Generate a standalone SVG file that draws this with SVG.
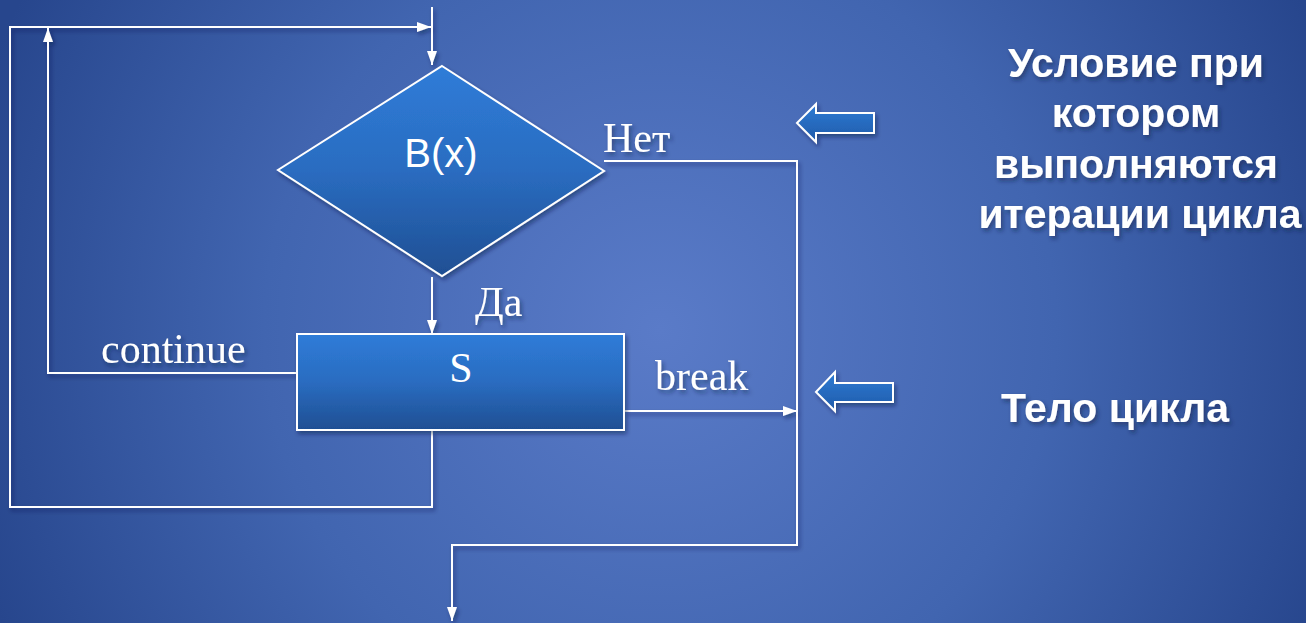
<svg xmlns="http://www.w3.org/2000/svg" width="1306" height="623" viewBox="0 0 1306 623">
<defs>
  <radialGradient id="bg" cx="660" cy="330" r="720" gradientUnits="userSpaceOnUse">
    <stop offset="0" stop-color="#5A7BC8"/>
    <stop offset="0.55" stop-color="#4165B0"/>
    <stop offset="1" stop-color="#27468D"/>
  </radialGradient>
  <linearGradient id="shapeFill" x1="0" y1="0" x2="0" y2="1">
    <stop offset="0" stop-color="#2F7CD8"/>
    <stop offset="0.5" stop-color="#2A6CC0"/>
    <stop offset="1" stop-color="#1F4F93"/>
  </linearGradient>
  <linearGradient id="arrowFill" x1="0" y1="0" x2="0" y2="1">
    <stop offset="0" stop-color="#2F7BD4"/>
    <stop offset="1" stop-color="#1F5BAA"/>
  </linearGradient>
  <filter id="shadow" x="-10%" y="-10%" width="130%" height="140%">
    <feDropShadow dx="2" dy="3" stdDeviation="2" flood-color="#0A1A40" flood-opacity="0.45"/>
  </filter>
  <filter id="tshadow" x="-10%" y="-20%" width="130%" height="150%">
    <feDropShadow dx="2" dy="3" stdDeviation="2" flood-color="#0A1A40" flood-opacity="0.5"/>
  </filter>
  <marker id="ah" markerUnits="userSpaceOnUse" markerWidth="15" markerHeight="11" refX="14" refY="5" orient="auto">
    <path d="M0,0 L14,5 L0,10 z" fill="#FFFFFF"/>
  </marker>
  <style>
    .conn { fill: none; stroke: #FFFFFF; stroke-width: 2; }
    .node { fill: url(#shapeFill); stroke: #FFFFFF; stroke-width: 2; }
    .blk { fill: url(#arrowFill); stroke: #FFFFFF; stroke-width: 2; stroke-linejoin: miter; }
    .serif { font-family: "Liberation Serif", "Times New Roman", serif; font-size: 42px; fill: #FFFFFF; }
    .sans { font-family: "Liberation Sans", Arial, sans-serif; fill: #FFFFFF; }
    .note { font-family: "Liberation Sans", Arial, sans-serif; font-weight: bold; font-size: 41px; fill: #FFFFFF; text-anchor: middle; }
  </style>
</defs>
<rect x="0" y="0" width="1306" height="623" fill="url(#bg)"/>

<g id="connectors" filter="url(#shadow)">
  <path class="conn" d="M432,7 L432,65" marker-end="url(#ah)"/>
  <path class="conn" d="M432,277 L432,334" marker-end="url(#ah)"/>
  <path class="conn" d="M604,161 L797,161 L797,545 L452,545 L452,621" marker-end="url(#ah)"/>
  <path class="conn" d="M625,411 L797,411" marker-end="url(#ah)"/>
  <path class="conn" d="M297,373 L48,373 L48,28" marker-end="url(#ah)"/>
  <path class="conn" d="M432,431 L432,507 L10,507 L10,27 L431,27" marker-end="url(#ah)"/>
</g>

<g id="node-condition">
  <polygon class="node" filter="url(#shadow)" points="442,66 604,171 442,276 278,170"/>
  <text class="sans" x="441" y="167" font-size="40" text-anchor="middle">B(x)</text>
</g>

<g id="node-body">
  <rect class="node" filter="url(#shadow)" x="297" y="334" width="327" height="96"/>
  <text class="serif" x="461" y="382" text-anchor="middle">S</text>
</g>

<g id="labels" filter="url(#tshadow)">
  <text class="serif" x="603" y="152">Нет</text>
  <text class="serif" x="475" y="316">Да</text>
  <text class="serif" x="101" y="363">continue</text>
  <text class="serif" x="655" y="390">break</text>
</g>

<g id="pointer-condition">
  <polygon class="blk" filter="url(#shadow)" points="797,123 816,104 816,113 874,113 874,133 816,133 816,142"/>
</g>
<g id="pointer-body">
  <polygon class="blk" filter="url(#shadow)" points="816,392 835,372 835,383 893,383 893,402 835,402 835,411"/>
</g>

<g id="note-condition" filter="url(#tshadow)">
  <text class="note" x="1136" y="77">Условие при</text>
  <text class="note" x="1136" y="127">котором</text>
  <text class="note" x="1136" y="178">выполняются</text>
  <text class="note" x="1140" y="228">итерации цикла</text>
</g>
<g id="note-body" filter="url(#tshadow)">
  <text class="note" x="1115" y="422">Тело цикла</text>
</g>
</svg>
